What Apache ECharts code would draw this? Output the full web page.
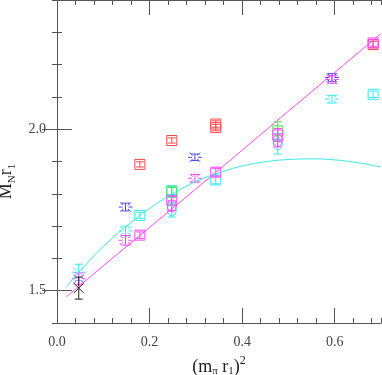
<!DOCTYPE html>
<html>
<head>
<meta charset="utf-8">
<script src="https://cdn.jsdelivr.net/npm/echarts@6/dist/echarts.min.js"></script>
<style>
html, body { margin: 0; padding: 0; background: #fff; }
#chart { width: 382px; height: 375px; }
</style>
</head>
<body>
<div id="chart"></div>
<script>
// each point: [x, y, error]
const redSquares = [[0.179, 1.891, 0.008], [0.248, 1.965, 0.008], [0.343, 2.005, 0.01], [0.343, 2.016, 0.01], [0.683, 2.262, 0.01]];
const blueStars = [[0.148, 1.759, 0.012], [0.298, 1.913, 0.01], [0.594, 2.16, 0.012]];
const cyanStars = [[0.047, 1.557, 0.025], [0.148, 1.685, 0.015], [0.594, 2.093, 0.012]];
const magentaStars = [[0.047, 1.537, 0.018], [0.148, 1.656, 0.015], [0.298, 1.848, 0.012], [0.594, 2.154, 0.012]];
const cyanSquares = [[0.179, 1.733, 0.01], [0.248, 1.81, 0.012], [0.343, 1.843, 0.012], [0.683, 2.108, 0.01]];
const magentaSquares = [[0.179, 1.672, 0.01], [0.248, 1.78, 0.012], [0.343, 1.867, 0.012], [0.477, 1.982, 0.02], [0.683, 2.267, 0.01]];
const greenSquares = [[0.248, 1.805, 0.015], [0.477, 1.995, 0.028]];
const magentaCircles = [[0.248, 1.763, 0.015], [0.477, 1.965, 0.02]];
const cyanCircles = [[0.248, 1.75, 0.022], [0.477, 1.955, 0.032]];
const blackCrosses = [[0.047, 1.508, 0.034]];

// fit curves
const magentaFit = [[0.02, 1.481], [0.1, 1.577], [0.2, 1.696], [0.3, 1.815], [0.4, 1.935], [0.5, 2.056], [0.6, 2.176], [0.7, 2.296]];
const cyanFit = [[0.02, 1.512], [0.05, 1.562], [0.1, 1.637], [0.15, 1.7], [0.2, 1.755], [0.25, 1.8], [0.3, 1.838], [0.35, 1.865], [0.4, 1.886], [0.45, 1.899], [0.5, 1.906], [0.55, 1.908], [0.6, 1.905], [0.65, 1.896], [0.7, 1.883]];

const xMajor = [0, 0.2, 0.4, 0.6];
const yMajor = [1.5, 2.0];

const RED = '#ff4848', BLUE = '#4848ff', CYAN = '#38e8e8', MAGENTA = '#ff44ff', GREEN = '#44e844', BLACK = '#222';
const axisColor = '#555';
const serif = 'Liberation Serif';

function makeRender(kind, color) {
  return function (params, api) {
    const x = api.value(0), y = api.value(1), e = api.value(2);
    const c = api.coord([x, y]);
    const top = api.coord([x, y + e])[1];
    const bot = api.coord([x, y - e])[1];
    const style = { stroke: color, lineWidth: 1, fill: 'none' };
    const kids = [
      { type: 'line', shape: { x1: c[0], y1: top, x2: c[0], y2: bot }, style },
      { type: 'line', shape: { x1: c[0] - 4, y1: top, x2: c[0] + 4, y2: top }, style },
      { type: 'line', shape: { x1: c[0] - 4, y1: bot, x2: c[0] + 4, y2: bot }, style }
    ];
    if (kind === 'square') {
      kids.push({ type: 'rect', shape: { x: c[0] - 5, y: c[1] - 5, width: 10, height: 10 }, style });
    } else if (kind === 'circle') {
      kids.push({ type: 'ellipse', shape: { cx: c[0], cy: c[1], rx: 4.5, ry: 6 }, style });
    } else if (kind === 'star') {
      [0, 40, 140, 180, 220, 320].forEach(function (a) {
        const r = a * Math.PI / 180;
        kids.push({ type: 'line', shape: {
          x1: c[0] + 3 * Math.cos(r), y1: c[1] - 3 * Math.sin(r),
          x2: c[0] + 7 * Math.cos(r), y2: c[1] - 7 * Math.sin(r) }, style });
      });
    } else if (kind === 'cross') {
      kids.push({ type: 'line', shape: { x1: c[0] - 5, y1: c[1] - 5, x2: c[0] + 5, y2: c[1] + 5 }, style });
      kids.push({ type: 'line', shape: { x1: c[0] - 5, y1: c[1] + 5, x2: c[0] + 5, y2: c[1] - 5 }, style });
    }
    return { type: 'group', children: kids };
  };
}

function pts(data, kind, color) {
  return { type: 'custom', data: data, renderItem: makeRender(kind, color), z: 3, clip: false };
}

function fit(data, color) {
  return { type: 'line', data: data, smooth: true, showSymbol: false, lineStyle: { color: color, width: 1 }, z: 4, silent: true };
}

const tickLine = { show: true, lineStyle: { color: axisColor, width: 1 } };

const chart = echarts.init(document.getElementById('chart'));
chart.setOption({
  animation: false,
  grid: { left: 57, right: 1, top: 0, bottom: 52, outerBoundsMode: 'none', containLabel: false },
  xAxis: [
    {
      type: 'value', position: 'bottom', min: 0, max: 0.7,
      axisLine: tickLine, splitLine: { show: false },
      axisTick: { inside: true, length: 15, customValues: xMajor, lineStyle: { color: axisColor } },
      axisLabel: { customValues: xMajor, formatter: v => v.toFixed(1), color: '#444', fontFamily: serif, fontSize: 14, margin: 12 },
      name: '{t|(m}{s|π}{t| r}{s|1}{t|)}{p|2}', nameLocation: 'middle', nameGap: 29,
      nameTextStyle: { align: 'center', verticalAlign: 'top', rich: {
        t: { fontFamily: serif, fontSize: 18, color: '#222', lineHeight: 20, padding: [4, 0, 0, 0] },
        s: { fontFamily: serif, fontSize: 11, color: '#222', lineHeight: 14, padding: [12, 0, 0, 0] },
        p: { fontFamily: serif, fontSize: 12, color: '#222', lineHeight: 14, padding: [0, 0, 10, 0] }
      } }
    },
    {
      type: 'value', position: 'bottom', min: 0, max: 0.7, interval: 0.04,
      axisLine: { show: false }, splitLine: { show: false }, axisLabel: { show: false },
      axisTick: { inside: true, length: 5, lineStyle: { color: axisColor } }
    },
    {
      type: 'value', position: 'top', min: 0, max: 0.7,
      axisLine: tickLine, splitLine: { show: false }, axisLabel: { show: false },
      axisTick: { inside: true, length: 15, customValues: xMajor, lineStyle: { color: axisColor } }
    },
    {
      type: 'value', position: 'top', min: 0, max: 0.7, interval: 0.04,
      axisLine: { show: false }, splitLine: { show: false }, axisLabel: { show: false },
      axisTick: { inside: true, length: 5, lineStyle: { color: axisColor } }
    }
  ],
  yAxis: [
    {
      type: 'value', position: 'left', min: 1.4, max: 2.4,
      axisLine: tickLine, splitLine: { show: false },
      axisTick: { inside: true, length: 15, customValues: yMajor, lineStyle: { color: axisColor } },
      axisLabel: { customValues: yMajor, formatter: v => v.toFixed(1), color: '#444', fontFamily: serif, fontSize: 14, margin: 11 },
      name: '{t|M}{s|N}{t|r}{s|1}', nameLocation: 'middle', nameGap: 40, nameRotate: 90,
      nameTextStyle: { align: 'center', verticalAlign: 'middle', padding: [0, 40, 0, 0], rich: {
        t: { fontFamily: serif, fontSize: 18, color: '#222', lineHeight: 20 },
        s: { fontFamily: serif, fontSize: 11, color: '#222', lineHeight: 14, padding: [12, 0, 0, 0] }
      } }
    },
    {
      type: 'value', position: 'left', min: 1.4, max: 2.4, interval: 0.1,
      axisLine: { show: false }, splitLine: { show: false }, axisLabel: { show: false },
      axisTick: { inside: true, length: 5, lineStyle: { color: axisColor } }
    },
    {
      type: 'value', position: 'right', min: 1.4, max: 2.4,
      axisLine: tickLine, splitLine: { show: false }, axisLabel: { show: false },
      axisTick: { inside: true, length: 15, customValues: yMajor, lineStyle: { color: axisColor } }
    },
    {
      type: 'value', position: 'right', min: 1.4, max: 2.4, interval: 0.1,
      axisLine: { show: false }, splitLine: { show: false }, axisLabel: { show: false },
      axisTick: { inside: true, length: 5, lineStyle: { color: axisColor } }
    }
  ],
  series: [
    fit(cyanFit, CYAN),
    fit(magentaFit, MAGENTA),
    pts(redSquares, 'square', RED),
    pts(blueStars, 'star', BLUE),
    pts(cyanStars, 'star', CYAN),
    pts(magentaStars, 'star', MAGENTA),
    pts(cyanSquares, 'square', CYAN),
    pts(greenSquares, 'square', GREEN),
    pts(magentaSquares, 'square', MAGENTA),
    pts(cyanCircles, 'circle', CYAN),
    pts(magentaCircles, 'circle', MAGENTA),
    pts(blackCrosses, 'cross', BLACK)
  ]
});
</script>
</body>
</html>
